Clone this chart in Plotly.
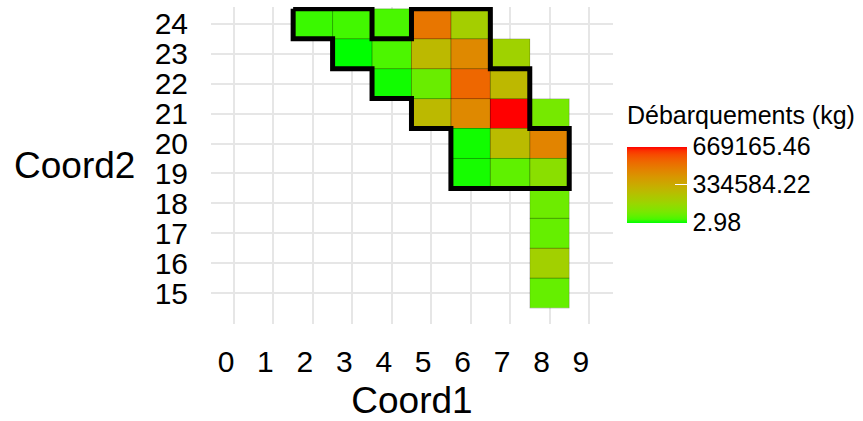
import plotly.graph_objects as go
import numpy as np

# Landings per grid cell (Coord1, Coord2, kg)
coord1 = [2, 3, 4, 5, 6,
          3, 4, 5, 6, 7,
          4, 5, 6, 7,
          5, 6, 7, 8,
          6, 7, 8,
          6, 7, 8,
          8, 8, 8, 8]
coord2 = [24, 24, 24, 24, 24,
          23, 23, 23, 23, 23,
          22, 22, 22, 22,
          21, 21, 21, 21,
          20, 20, 20,
          19, 19, 19,
          18, 17, 16, 15]
landings = [26800, 30100, 33500, 501900, 200700,
            2.98, 36800, 281000, 448300, 187400,
            8000, 73600, 542000, 287700,
            284300, 448000, 669165.46, 93700,
            8000, 274400, 461700,
            10000, 60200, 133800,
            80300, 66900, 194100, 66900]

# Outline of the highlighted zone (cell-edge vertices)
zone_x = [1.5, 3.5, 3.5, 4.5, 4.5, 6.5, 6.5, 7.5, 7.5, 8.5, 8.5, 5.5, 5.5, 4.5, 4.5, 3.5, 3.5, 2.5, 2.5, 1.5, 1.5]
zone_y = [24.5, 24.5, 23.5, 23.5, 24.5, 24.5, 22.5, 22.5, 20.5, 20.5, 18.5, 18.5, 20.5, 20.5, 21.5, 21.5, 22.5, 22.5, 23.5, 23.5, 24.5]

x_ticks = list(range(0, 10))
y_ticks = list(range(15, 25))
legend_ticks = [2.98, 334584.22, 669165.46]
legend_labels = ["2.98", "334584.22", "669165.46"]

FONT = "Liberation Sans, Arial, sans-serif"


# green -> red gradient interpolated in CIE Lab
def srgb_to_lab(rgb):
    c = np.array(rgb, dtype=float) / 255.0
    c = np.where(c <= 0.04045, c / 12.92, ((c + 0.055) / 1.055) ** 2.4)
    m = np.array([[0.4124, 0.3576, 0.1805],
                  [0.2126, 0.7152, 0.0722],
                  [0.0193, 0.1192, 0.9505]])
    xyz = m @ c / np.array([0.95047, 1.0, 1.08883])
    f = np.where(xyz > 0.008856, np.cbrt(xyz), 7.787 * xyz + 16 / 116)
    return np.array([116 * f[1] - 16, 500 * (f[0] - f[1]), 200 * (f[1] - f[2])])


def lab_to_hex(lab):
    L, a, b = lab
    fy = (L + 16) / 116
    f = np.array([fy + a / 500, fy, fy - b / 200])
    xyz = np.where(f ** 3 > 0.008856, f ** 3, (f - 16 / 116) / 7.787)
    xyz = xyz * np.array([0.95047, 1.0, 1.08883])
    m = np.array([[3.2406, -1.5372, -0.4986],
                  [-0.9689, 1.8758, 0.0415],
                  [0.0557, -0.2040, 1.0570]])
    c = m @ xyz
    c = np.clip(c, 0, 1)
    c = np.where(c <= 0.0031308, 12.92 * c, 1.055 * c ** (1 / 2.4) - 0.055)
    r, g, bb = (np.clip(np.round(c * 255), 0, 255)).astype(int)
    return f"#{r:02x}{g:02x}{bb:02x}"


lab_lo = srgb_to_lab([0, 255, 0])
lab_hi = srgb_to_lab([255, 0, 0])
scale = [[t, lab_to_hex(lab_lo + (lab_hi - lab_lo) * t)] for t in np.linspace(0, 1, 21)]

# thin cell borders
bx, by = [], []
for cx, cy in zip(coord1, coord2):
    bx += [cx - 0.5, cx + 0.5, cx + 0.5, cx - 0.5, cx - 0.5, None]
    by += [cy - 0.5, cy - 0.5, cy + 0.5, cy + 0.5, cy - 0.5, None]

fig = go.Figure()
fig.add_trace(go.Heatmap(
    x=coord1, y=coord2, z=landings,
    colorscale=scale, zmin=min(landings), zmax=max(landings),
    colorbar=dict(
        tickvals=legend_ticks, ticktext=legend_labels,
        tickfont=dict(size=25, family=FONT, color="black"),
        ticks="inside", tickcolor="white", ticklen=12, tickwidth=1,
        outlinewidth=0, thickness=60,
        lenmode="pixels", len=76,
        x=1.035, xanchor="left", xpad=0,
        y=0.44, yanchor="middle", ypad=0,
    ),
))
fig.add_trace(go.Scatter(
    x=bx, y=by, mode="lines",
    line=dict(color="rgba(0,0,0,0.18)", width=1),
    hoverinfo="skip", showlegend=False,
))
fig.add_trace(go.Scatter(
    x=zone_x, y=zone_y, mode="lines",
    line=dict(color="black", width=5),
    hoverinfo="skip", showlegend=False,
))

fig.update_layout(
    width=863, height=421,
    margin=dict(l=211, r=250, t=7, b=94),
    paper_bgcolor="white", plot_bgcolor="white",
    font=dict(family=FONT, color="black"),
    xaxis=dict(
        range=[-0.583, 9.61], tickvals=x_ticks, ticks="",
        tickfont=dict(size=30), ticklabelstandoff=17, ticklabelshift=-8,
        showgrid=True, gridcolor="#E6E6E6", gridwidth=1.5, zeroline=False,
        title=dict(text="Coord1", font=dict(size=37), standoff=10),
    ),
    yaxis=dict(
        range=[13.97, 24.56], tickvals=y_ticks, ticks="",
        tickfont=dict(size=30), ticklabelstandoff=22,
        showgrid=True, gridcolor="#E6E6E6", gridwidth=1.5, zeroline=False,
    ),
    annotations=[
        dict(text="Coord2", xref="paper", yref="paper", x=0, y=0.5,
             xanchor="right", yanchor="middle", xshift=-74, showarrow=False,
             font=dict(size=37, family=FONT, color="black")),
        dict(text="Débarquements (kg)", xref="paper", yref="paper",
             x=1.035, y=(327 - 116) / 320, xanchor="left", yanchor="middle",
             xshift=-2, showarrow=False,
             font=dict(size=25, family=FONT, color="black")),
    ],
)

fig.write_html("out.html")
